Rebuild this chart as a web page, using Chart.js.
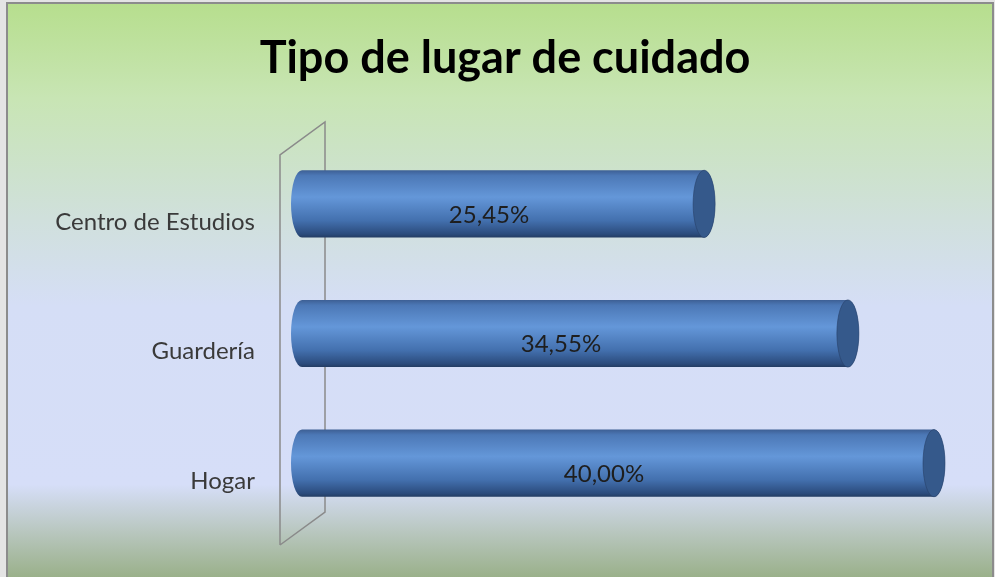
<!DOCTYPE html>
<html lang="es">
<head>
    <meta charset="UTF-8">
    <title>Tipo de lugar de cuidado</title>
    <script src="https://cdn.jsdelivr.net/npm/chart.js"></script>
    <style>
        html, body { margin: 0; padding: 0; }
        .chartBox { width: 995px; height: 577px; }
    </style>
</head>
<body>
    <div class="chartBox">
        <canvas id="barChart"></canvas>
    </div>
    <script>
        // data
        var categories = ['Centro de Estudios', 'Guardería', 'Hogar'];
        var percentages = [25.45, 34.55, 40.00];
        var titleText = 'Tipo de lugar de cuidado';

        function fmt(v) {
            return v.toFixed(2).replace('.', ',') + '%';
        }

        // background gradient, frame, title and the axis side wall
        var backdrop = {
            id: 'backdrop',
            beforeDraw: function (chart) {
                var c = chart.ctx, w = chart.width, h = chart.height;
                var g = c.createLinearGradient(0, 0, 0, h);
                g.addColorStop(0, '#b6de8c');
                g.addColorStop(0.17, '#c8e5b4');
                g.addColorStop(0.38, '#d0e0dc');
                g.addColorStop(0.53, '#d5def6');
                g.addColorStop(0.84, '#d6def8');
                g.addColorStop(0.92, '#b9c7c0');
                g.addColorStop(1, '#9ab08a');
                c.save();
                c.fillStyle = '#e4e4e4';
                c.fillRect(0, 0, w, h);
                c.fillStyle = g;
                c.fillRect(7, 3, w - 8, h - 3);
                c.strokeStyle = '#8c8c8c';
                c.lineWidth = 2;
                c.strokeRect(7, 3, w - 9, h + 2);

                c.fillStyle = '#000000';
                c.font = 'bold 45px Lato';
                c.textAlign = 'center';
                c.textBaseline = 'alphabetic';
                c.fillText(titleText, 505, 73);

                var area = chart.chartArea;
                var x0 = area.left - 22, x1 = area.left + 23;
                c.strokeStyle = '#8a8a8a';
                c.lineWidth = 1.5;
                c.beginPath();
                c.moveTo(x0, area.bottom + 17);
                c.lineTo(x0, area.top + 16);
                c.lineTo(x1, area.top - 17);
                c.lineTo(x1, area.bottom - 16);
                c.lineTo(x0, area.bottom + 17);
                c.stroke();
                c.restore();
            }
        };

        // cylinders drawn over the (transparent) bar rectangles
        var cylinders = {
            id: 'cylinders',
            afterDatasetsDraw: function (chart) {
                var c = chart.ctx;
                var meta = chart.getDatasetMeta(0);
                c.save();
                meta.data.forEach(function (bar, i) {
                    var p = bar.getProps(['x', 'y', 'base', 'height'], true);
                    var top = p.y - p.height / 2, bot = p.y + p.height / 2;
                    var rx = 11, ry = p.height / 2;
                    var g = c.createLinearGradient(0, top, 0, bot);
                    g.addColorStop(0, '#3d5f94');
                    g.addColorStop(0.08, '#4c78b6');
                    g.addColorStop(0.4, '#6497d9');
                    g.addColorStop(0.75, '#4370ae');
                    g.addColorStop(0.95, '#2b4b7c');
                    g.addColorStop(1, '#233c62');
                    c.fillStyle = g;
                    c.beginPath();
                    c.moveTo(p.base, top);
                    c.lineTo(p.x, top);
                    c.ellipse(p.x, p.y, rx, ry, 0, -Math.PI / 2, Math.PI / 2, false);
                    c.lineTo(p.base, bot);
                    c.ellipse(p.base, p.y, rx, ry, 0, Math.PI / 2, Math.PI * 1.5, false);
                    c.closePath();
                    c.fill();
                    // end cap
                    c.fillStyle = '#35598b';
                    c.beginPath();
                    c.ellipse(p.x, p.y, rx, ry, 0, 0, Math.PI * 2);
                    c.fill();
                    c.strokeStyle = 'rgba(40,65,105,0.6)';
                    c.lineWidth = 1;
                    c.stroke();
                    // value label
                    c.fillStyle = '#1e1e1e';
                    c.font = '24px Lato';
                    c.textAlign = 'center';
                    c.textBaseline = 'middle';
                    c.fillText(fmt(percentages[i]), (p.base + p.x) / 2 - 14, p.y + 11);
                });
                c.restore();
            }
        };

        var ctx = document.getElementById('barChart').getContext('2d');
        var chart = new Chart(ctx, {
            type: 'bar',
            data: {
                labels: categories,
                datasets: [{
                    data: percentages,
                    backgroundColor: 'rgba(0,0,0,0)',
                    barPercentage: 0.72,
                    categoryPercentage: 0.72
                }]
            },
            options: {
                indexAxis: 'y',
                responsive: true,
                maintainAspectRatio: false,
                animation: false,
                layout: {
                    padding: { top: 139, right: 61, bottom: 49, left: 0 }
                },
                plugins: {
                    legend: { display: false },
                    tooltip: { enabled: false },
                    title: { display: false }
                },
                scales: {
                    x: {
                        display: false,
                        min: 0,
                        max: 40
                    },
                    y: {
                        grid: { display: false, drawTicks: false },
                        border: { display: false },
                        ticks: {
                            color: '#3a3a3a',
                            font: { family: 'Lato', size: 24 },
                            padding: 47,
                            labelOffset: 18
                        },
                        afterFit: function (scale) {
                            scale.width = 302;
                            scale.paddingTop = 0;
                            scale.paddingBottom = 0;
                        }
                    }
                }
            },
            plugins: [backdrop, cylinders]
        });
    </script>
</body>
</html>
